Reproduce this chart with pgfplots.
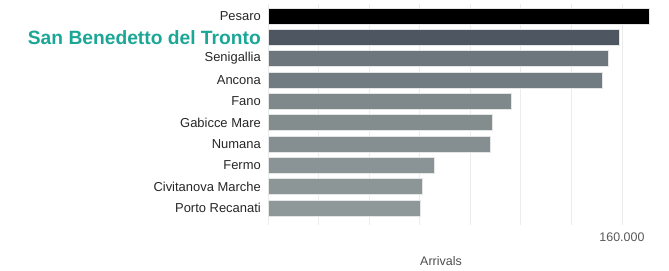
\documentclass[border=0pt]{standalone}
\usepackage{pgfplots}
\pgfplotsset{compat=1.18}
\usepackage{fontspec}
\setmainfont{Liberation Sans}
\definecolor{cPes}{HTML}{000000}
\definecolor{cSBT}{HTML}{4E5661}
\definecolor{cSen}{HTML}{6C767C}
\definecolor{cAnc}{HTML}{717C82}
\definecolor{cFan}{HTML}{7F898B}
\definecolor{cGab}{HTML}{838D8E}
\definecolor{cNum}{HTML}{858E90}
\definecolor{cFer}{HTML}{8A9395}
\definecolor{cCiv}{HTML}{8D9697}
\definecolor{cPor}{HTML}{8F9899}
\definecolor{teallbl}{HTML}{1BA696}
\definecolor{gridc}{HTML}{ECECEC}
\begin{document}
\begin{tikzpicture}
\path[use as bounding box] (-268bp,-46bp) rectangle (401bp,225bp);
\begin{axis}[
  at={(0,0)}, anchor=south west,
  scale only axis,
  width=393.8bp, height=220.8bp,
  xmin=0, xmax=178000,
  ymin=-0.55, ymax=9.8,
  y dir=reverse,
  xbar, bar shift=0pt, bar width=0.75,
  axis line style={draw=none},
  major tick length=0pt,
  scaled x ticks=false,
  xmajorgrids, grid style={gridc, line width=0.8bp},
  xtick={0,22857.14,45714.29,68571.43,91428.57,114285.71,137142.86,160000},
  xticklabels={,,,,,,,160.000},
  xticklabel style={font=\fontsize{12.5}{12.5}\selectfont, text=black!65, yshift=-4bp},
  ytick={0,...,9},
  yticklabels={Pesaro,
    {\textcolor{teallbl}{\bfseries\fontsize{19.3}{19.3}\selectfont San Benedetto del Tronto}},
    Senigallia,Ancona,Fano,Gabicce Mare,Numana,Fermo,Civitanova Marche,Porto Recanati},
  yticklabel style={font=\fontsize{13}{13}\selectfont, text=black!85, inner sep=0pt, xshift=-7bp},
  xlabel={Arrivals},
  xlabel style={at={(axis description cs:0.4393,0)}, anchor=center, yshift=-35.7bp, font=\fontsize{12.5}{12.5}\selectfont, text=black!70},
  every axis plot/.append style={draw=white!80!gray, line width=0.6bp},
]
\addplot[fill=cPes] coordinates {(172340,0)};
\addplot[fill=cSBT] coordinates {(158780,1)};
\addplot[fill=cSen] coordinates {(153670,2)};
\addplot[fill=cAnc] coordinates {(151100,3)};
\addplot[fill=cFan] coordinates {(109830,4)};
\addplot[fill=cGab] coordinates {(101560,5)};
\addplot[fill=cNum] coordinates {(100340,6)};
\addplot[fill=cFer] coordinates {(75170,7)};
\addplot[fill=cCiv] coordinates {(69740,8)};
\addplot[fill=cPor] coordinates {(68840,9)};
\end{axis}
\end{tikzpicture}
\end{document}
